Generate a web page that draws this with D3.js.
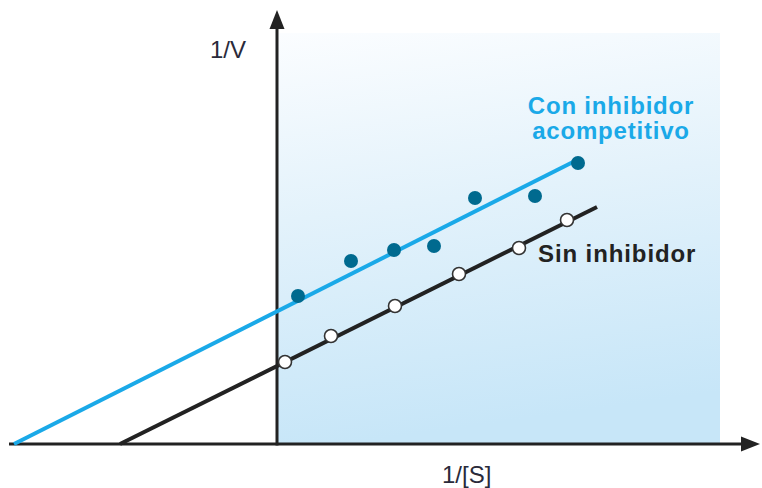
<!DOCTYPE html>
<html>
<head>
<meta charset="utf-8">
<script src="https://cdn.jsdelivr.net/npm/d3@7"></script>
<style>
  html, body { margin: 0; padding: 0; background: #ffffff; }
  svg { display: block; }
</style>
</head>
<body>
<svg id="chart" width="762" height="488"></svg>
<script>
// ---- Data (arbitrary units: 1/[S] on x, 1/V on y) ----
const seriesNames = ["Con inhibidor acompetitivo", "Sin inhibidor"];

// Uncompetitive inhibitor data points (filled)
const inhibX = [0.21, 0.74, 1.17, 1.57, 1.98, 2.58, 3.01];
const inhibY = [1.48, 1.83, 1.94, 1.98, 2.46, 2.48, 2.81];

// No inhibitor data points (open)
const noInhibX = [0.08, 0.54, 1.18, 1.82, 2.42, 2.90];
const noInhibY = [0.82, 1.08, 1.38, 1.70, 1.96, 2.24];

// Fitted lines (endpoints, extrapolated to the x-axis)
const inhibLineX = [-2.63, 3.02];
const inhibLineY = [0.00, 2.85];
const noInhibLineX = [-1.57, 3.20];
const noInhibLineY = [0.00, 2.37];

// Axis labels
const xAxisLabel = "1/[S]";
const yAxisLabel = "1/V";

// Axis extents
const xDomain = [-2.68, 4.83];
const yDomain = [0, 4.34];
const shadeExtent = { x: [0, 4.43], y: [0, 4.11] };

// ---- Drawing ----
const svg = d3.select("#chart");
const x = d3.scaleLinear().domain(xDomain).range([9, 760]);
const y = d3.scaleLinear().domain(yDomain).range([444, 10]);

const defs = svg.append("defs");
const grad = defs.append("linearGradient")
  .attr("id", "bg").attr("x1", "0").attr("y1", "0").attr("x2", "0.15").attr("y2", "1");
grad.append("stop").attr("offset", "0%").attr("stop-color", "#fbfdff");
grad.append("stop").attr("offset", "45%").attr("stop-color", "#e3f2fb");
grad.append("stop").attr("offset", "100%").attr("stop-color", "#c7e6f8");

// shaded quadrant
svg.append("rect")
  .attr("x", x(shadeExtent.x[0]))
  .attr("y", y(shadeExtent.y[1]))
  .attr("width", x(shadeExtent.x[1]) - x(shadeExtent.x[0]))
  .attr("height", y(shadeExtent.y[0]) - y(shadeExtent.y[1]))
  .attr("fill", "url(#bg)");

// axes (no ticks)
const axisColor = "#222222";
const xAxis = svg.append("g")
  .attr("transform", `translate(0,${y(0)})`)
  .call(d3.axisBottom(x).tickValues([]).tickSizeOuter(0));
xAxis.select(".domain").attr("stroke", axisColor).attr("stroke-width", 3).attr("d", `M${x(xDomain[0])},0H${x(xDomain[1]) - 12}`);

const yAxis = svg.append("g")
  .attr("transform", `translate(${x(0)},0)`)
  .call(d3.axisLeft(y).tickValues([]).tickSizeOuter(0));
yAxis.select(".domain").attr("stroke", axisColor).attr("stroke-width", 3).attr("d", `M0,${y(0) + 1.5}V${y(yDomain[1]) + 12}`);

// arrowheads
const tipX = x(xDomain[1]), tipY = y(yDomain[1]);
svg.append("path")
  .attr("d", `M${tipX},${y(0)} L${tipX - 19},${y(0) - 7.5} L${tipX - 19},${y(0) + 7.5} Z`)
  .attr("fill", axisColor);
svg.append("path")
  .attr("d", `M${x(0)},${tipY} L${x(0) - 7.5},${tipY + 19} L${x(0) + 7.5},${tipY + 19} Z`)
  .attr("fill", axisColor);

// lines
const lineGen = d3.line().x(d => x(d[0])).y(d => y(d[1]));
svg.append("path")
  .datum(d3.zip(noInhibLineX, noInhibLineY))
  .attr("d", lineGen)
  .attr("stroke", "#222222").attr("stroke-width", 4).attr("fill", "none");
svg.append("path")
  .datum(d3.zip(inhibLineX, inhibLineY))
  .attr("d", lineGen)
  .attr("stroke", "#1aa9e8").attr("stroke-width", 4).attr("fill", "none");

// points
svg.append("g").selectAll("circle")
  .data(d3.zip(inhibX, inhibY))
  .join("circle")
  .attr("cx", d => x(d[0])).attr("cy", d => y(d[1])).attr("r", 7)
  .attr("fill", "#006a8f");

svg.append("g").selectAll("circle")
  .data(d3.zip(noInhibX, noInhibY))
  .join("circle")
  .attr("cx", d => x(d[0])).attr("cy", d => y(d[1])).attr("r", 6.5)
  .attr("fill", "#ffffff").attr("stroke", "#333333").attr("stroke-width", 1.6);

// axis labels
const font = "'Liberation Sans', Arial, Helvetica, sans-serif";
svg.append("text")
  .attr("x", 246).attr("y", 58)
  .attr("text-anchor", "end")
  .attr("font-family", font).attr("font-size", 24).attr("fill", "#2a2a3a")
  .text(yAxisLabel);
svg.append("text")
  .attr("x", 442).attr("y", 483)
  .attr("font-family", font).attr("font-size", 24).attr("fill", "#2a2a3a")
  .text(xAxisLabel);

// series labels
const lbl = svg.append("text")
  .attr("font-family", font).attr("font-size", 24).attr("font-weight", "bold")
  .attr("fill", "#1aa9e8").attr("text-anchor", "middle").attr("letter-spacing", 0.8);
const words = seriesNames[0].split(" ");
lbl.append("tspan").attr("x", 611).attr("y", 114).text(words.slice(0, 2).join(" "));
lbl.append("tspan").attr("x", 611).attr("y", 139).text(words.slice(2).join(" "));

svg.append("text")
  .attr("x", 538).attr("y", 262)
  .attr("font-family", font).attr("font-size", 24).attr("font-weight", "bold")
  .attr("fill", "#222222").attr("letter-spacing", 0.9)
  .text(seriesNames[1]);
</script>
</body>
</html>
